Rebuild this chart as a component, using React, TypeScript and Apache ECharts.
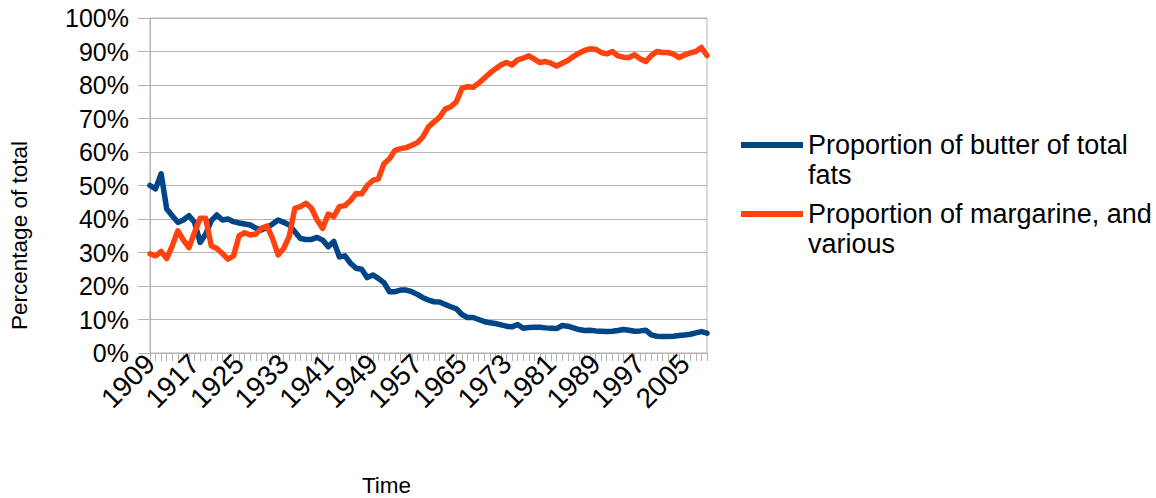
import React, { useEffect, useRef } from "react";
import * as echarts from "echarts";

const years: string[] = [];
for (let y = 1909; y <= 2009; y++) years.push(String(y));

const butterName = "Proportion of butter of total fats";
const margarineName = "Proportion of margarine, and various";
// a blank first line keeps the legend line level with the first text line
const legendLabels: Record<string, string> = {
  [butterName]: " \nProportion of butter of total\nfats",
  [margarineName]: " \nProportion of margarine, and\nvarious",
};

const butter = [
  50, 49, 53.5, 43, 41, 39, 39.7, 41, 39, 33,
  35.5, 39.5, 41.2, 39.7, 40, 39.2, 38.8, 38.5, 38.2, 37.3,
  36.7, 37.5, 38.5, 39.7, 39, 38.2, 36.2, 34.2, 33.9, 33.9,
  34.5, 33.7, 31.7, 33.3, 28.7, 29, 26.8, 25.3, 25, 22.5,
  23.3, 22.3, 21, 18.3, 18.3, 18.8, 18.8, 18.3, 17.5, 16.5,
  15.8, 15.3, 15.2, 14.5, 13.8, 13.2, 11.5, 10.6, 10.6, 10,
  9.4, 9, 8.8, 8.4, 8, 7.8, 8.5, 7.4, 7.6, 7.7,
  7.7, 7.5, 7.4, 7.3, 8.2, 8, 7.5, 7, 6.7, 6.8,
  6.6, 6.5, 6.4, 6.5, 6.7, 7, 6.8, 6.5, 6.6, 6.8,
  5.4, 5, 4.9, 4.9, 5, 5.2, 5.4, 5.6, 6, 6.4,
  5.9,
];

const margarine = [
  29.6, 29, 30.3, 28.2, 32, 36.5, 33.7, 31.5, 36, 40.2,
  40.2, 32, 31.2, 29.7, 28, 29, 35, 35.9, 35.2, 35.5,
  37.2, 37.9, 34.2, 29.3, 31.2, 34.8, 43.2, 43.7, 44.7, 43.2,
  39.7, 37.2, 41.5, 40.7, 43.7, 44, 45.5, 47.6, 47.5, 50,
  51.5, 52, 56.5, 58, 60.5, 61, 61.3, 62, 62.8, 64.5,
  67.5, 69, 70.4, 72.8, 73.5, 75, 79, 79.5, 79.3, 80.5,
  82, 83.5, 84.8, 86, 86.7, 86, 87.5, 88, 88.7, 87.7,
  86.7, 87, 86.5, 85.7, 86.5, 87.3, 88.5, 89.5, 90.3, 90.8,
  90.7, 89.7, 89.3, 90, 88.7, 88.3, 88.2, 89, 87.8, 87,
  88.8, 90, 89.7, 89.7, 89.2, 88.2, 89, 89.6, 90, 91.2,
  88.8,
];

const FONT = "'Liberation Sans', Arial, sans-serif";
const GRAY = "#b3b3b3";
const BLUE = "#004586";
const ORANGE = "#ff420e";

function legendFor(name: string, top: number) {
  return {
    data: [name],
    left: 741,
    top,
    padding: 0,
    icon: "rect",
    itemWidth: 62,
    itemHeight: 6,
    itemGap: 8,
    formatter: (n: string) => legendLabels[n] || n,
    textStyle: {
      fontFamily: FONT,
      fontSize: 27,
      color: "#000",
      lineHeight: 30,
    },
  };
}

export default function App() {
  const ref = useRef<HTMLDivElement>(null);
  useEffect(() => {
    if (!ref.current) return;
    document.body.style.margin = "0";
    const chart = echarts.init(ref.current, undefined, { renderer: "svg" });
    chart.setOption({
      animation: false,
      backgroundColor: "#fff",
      textStyle: { fontFamily: FONT },
      grid: {
        left: 150,
        right: 449,
        top: 18,
        bottom: 145,
        show: true,
        borderColor: GRAY,
        borderWidth: 1,
        containLabel: false,
        outerBoundsMode: "none",
      },
      legend: [legendFor(butterName, 100), legendFor(margarineName, 169)],
      xAxis: {
        type: "category",
        data: years,
        boundaryGap: false,
        name: "Time",
        nameLocation: "middle",
        nameGap: 121,
        nameTextStyle: {
          fontFamily: FONT,
          fontSize: 22.5,
          lineHeight: 22,
          color: "#000",
          padding: [0, 84, 0, 0],
        },
        axisLine: { lineStyle: { color: GRAY, width: 1 } },
        axisTick: { show: true, interval: 0, length: 8, lineStyle: { color: GRAY } },
        axisLabel: {
          interval: 7,
          rotate: 45,
          margin: 6,
          fontFamily: FONT,
          fontSize: 28,
          color: "#000",
        },
        splitLine: { show: false },
      },
      yAxis: {
        type: "value",
        min: 0,
        max: 100,
        interval: 10,
        name: "Percentage of total",
        nameLocation: "middle",
        nameRotate: 90,
        nameGap: 119,
        nameTextStyle: {
          fontFamily: FONT,
          fontSize: 22.5,
          color: "#000",
          padding: [0, 100, 0, 0],
        },
        axisLine: { show: true, lineStyle: { color: GRAY, width: 1 } },
        axisTick: { show: true, length: 12, lineStyle: { color: GRAY } },
        axisLabel: {
          formatter: "{value}%",
          margin: 21,
          fontFamily: FONT,
          fontSize: 25,
          color: "#000",
        },
        splitLine: { show: true, lineStyle: { color: GRAY, width: 1 } },
      },
      series: [
        {
          name: butterName,
          type: "line",
          data: butter,
          showSymbol: false,
          symbol: "none",
          lineStyle: { color: BLUE, width: 5.5, join: "round", cap: "round" },
          itemStyle: { color: BLUE },
        },
        {
          name: margarineName,
          type: "line",
          data: margarine,
          showSymbol: false,
          symbol: "none",
          lineStyle: { color: ORANGE, width: 5.5, join: "round", cap: "round" },
          itemStyle: { color: ORANGE },
        },
      ],
    });
    return () => chart.dispose();
  }, []);
  return <div ref={ref} style={{ width: 1156, height: 498 }} />;
}
